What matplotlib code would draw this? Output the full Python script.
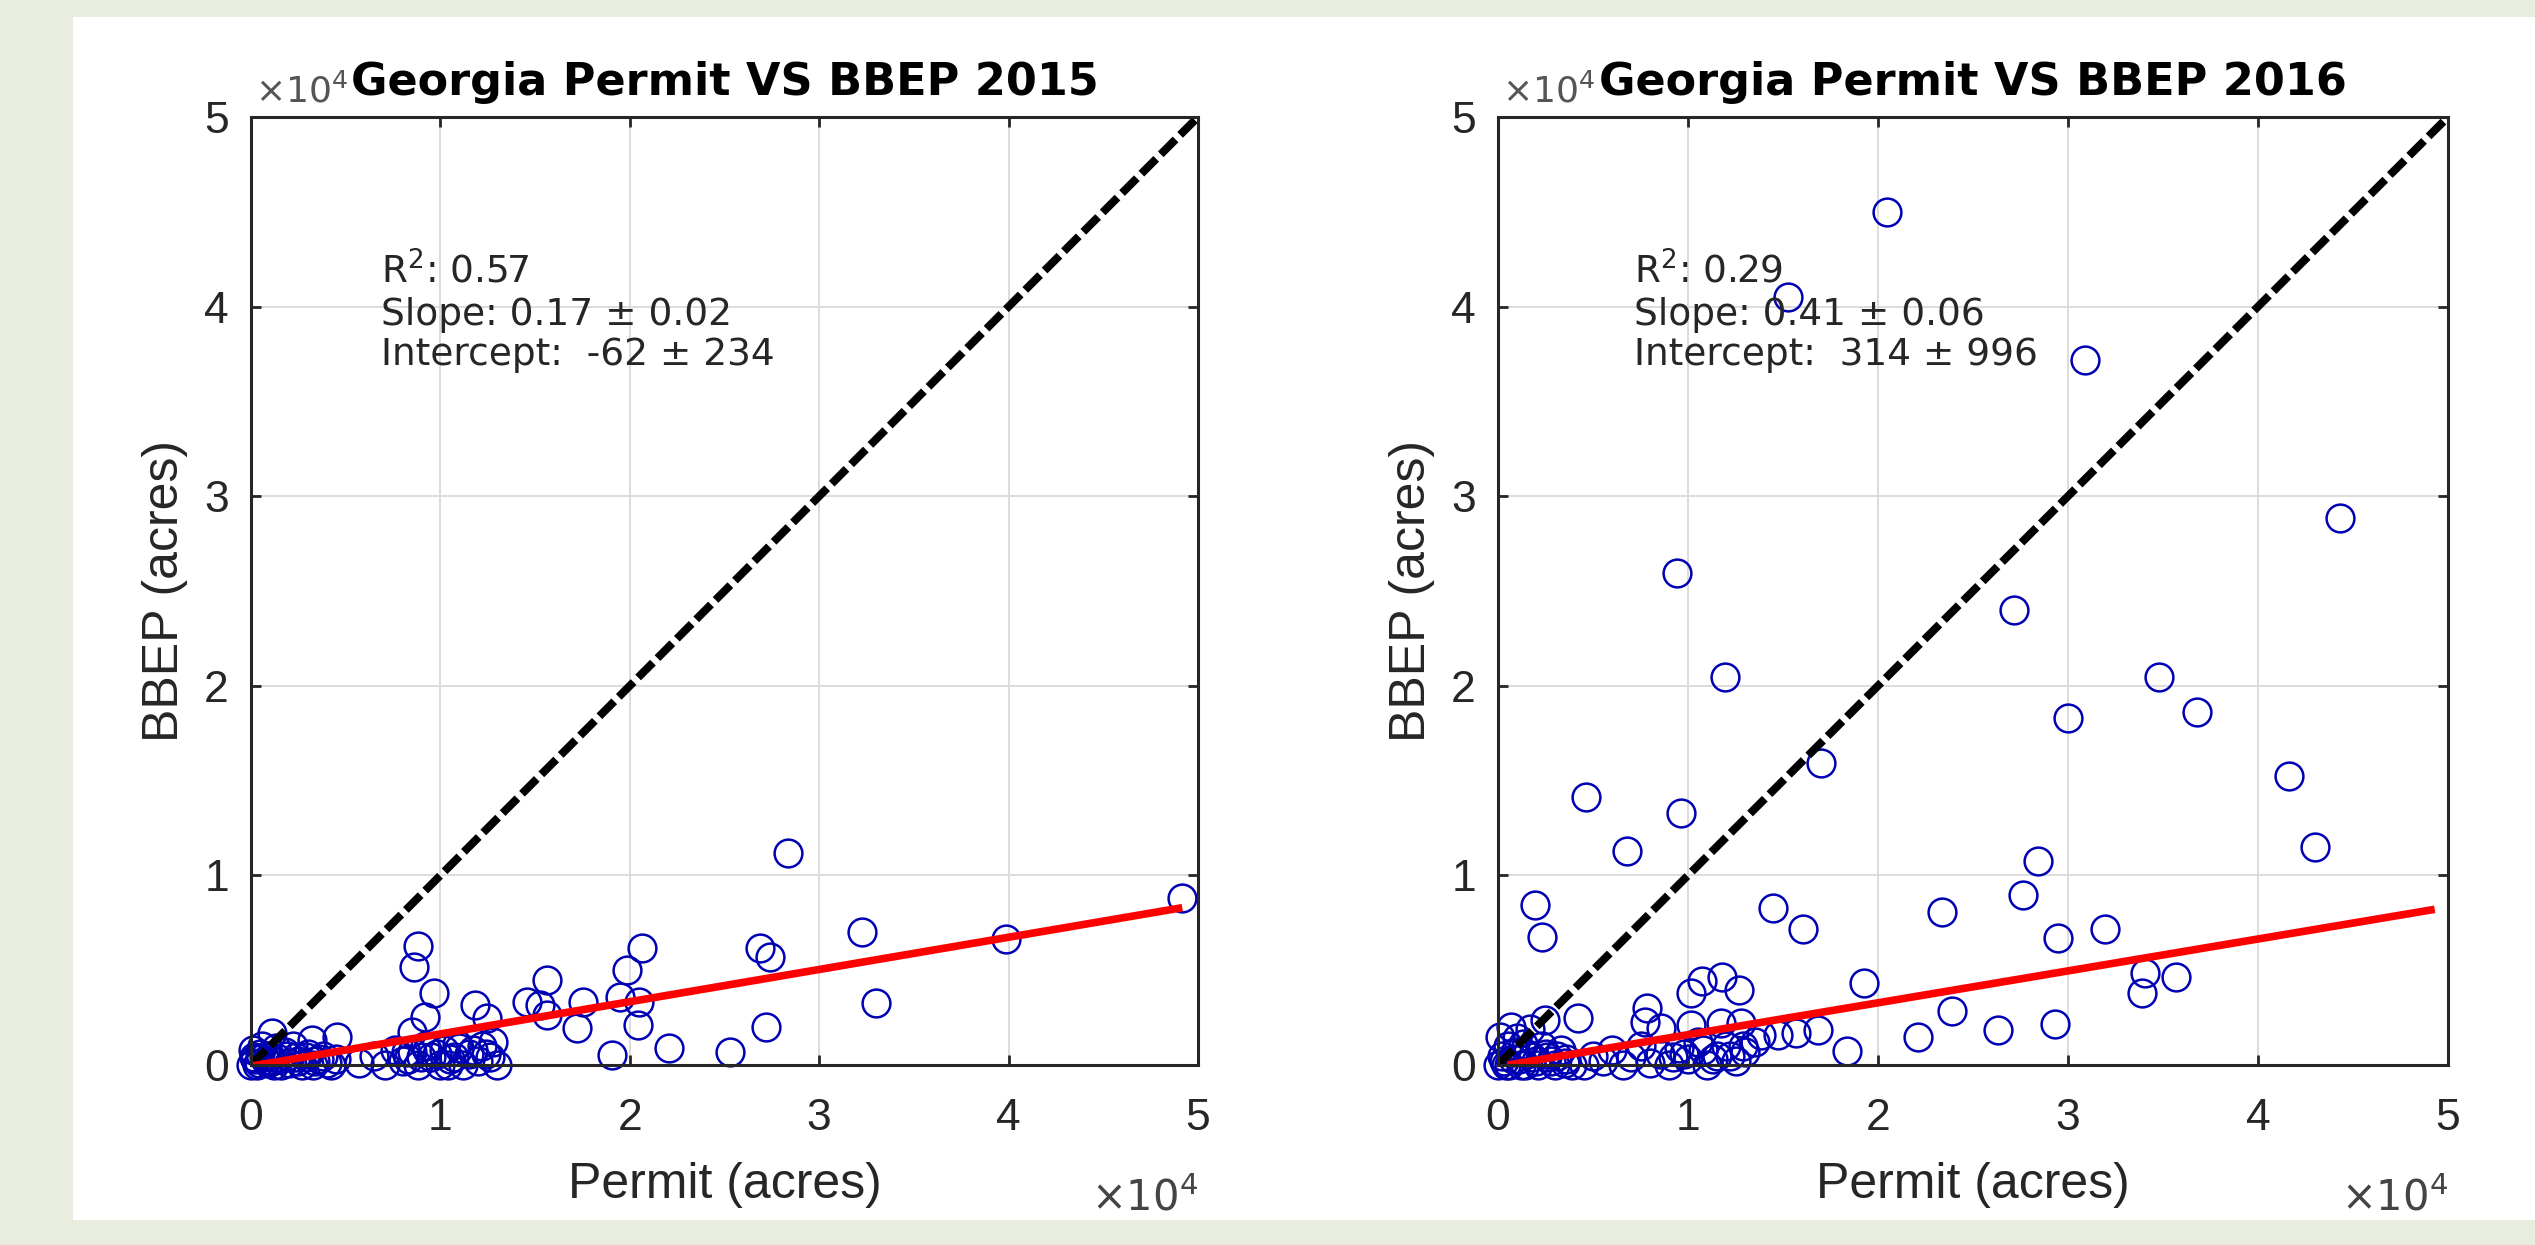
"""Georgia permit acreage versus BBEP acreage, 2015 and 2016."""

import matplotlib
matplotlib.use("Agg", force=True)
import matplotlib.pyplot as plt
from matplotlib.patches import Rectangle
from matplotlib.ticker import FuncFormatter, MultipleLocator

plt.rcParams["font.family"] = ["Liberation Sans", "DejaVu Sans"]
plt.rcParams["mathtext.fontset"] = "dejavusans"

# ---- data (acres) ------------------------------------------------------
permit_2015 = [
    8800, 8610, 9680, 9190, 8480, 11830, 12440, 15610, 14560, 15260, 17550, 17200,
    19480, 19840, 20630, 20450, 20500, 19040, 22070, 25290, 27200, 28340, 26870,
    27400, 32280, 32980, 39860, 49170, 1090, 3200, 4520, 15610,
    0, 200, 400, 500, 800, 1000, 1200, 1500, 1800, 2000, 2400, 2700, 3000, 3400,
    3800, 4200, 4500, 100, 600, 1300, 2200,
    300, 700, 1100, 1600, 1900, 2500, 2900, 3300, 3600, 4000, 150, 900,
    5700, 6500, 7100, 7600, 8000, 8500, 8800, 9200, 9500, 10000, 10200, 10500,
    10900, 11200, 11500, 12000, 12200, 12600, 13000, 12800, 9300, 8200,
    9800, 10700, 11700, 12400, 10400, 11000, 9000, 8300,
]
bbep_2015 = [
    6280, 5190, 3780, 2550, 1760, 3160, 2460, 4480, 3340, 3160, 3340, 1930,
    3600, 5010, 6150, 2110, 3300, 530, 880, 700, 2020, 11170, 6150,
    5710, 7000, 3250, 6650, 8790, 1670, 1320, 1490, 2640,
    0, 300, 100, 600, 200, 500, 0, 300, 700, 100, 400, 0, 600, 200,
    500, 0, 300, 800, 1000, 900, 1000,
    0, 400, 200, 0, 500, 200, 400, 0, 300, 100, 400, 100,
    100, 500, 0, 800, 200, 700, 0, 1000, 400, 0, 800, 300,
    1100, 0, 600, 200, 1000, 400, 0, 1200, 790, 700,
    600, 400, 800, 600, 0, 900, 400, 300,
]
fit_x_2015 = [0, 49170]
fit_y_2015 = [-62, 8297]

permit_2016 = [
    20470, 15270, 30900, 44300, 9440, 27160, 11930, 34800, 36770, 30000, 17000,
    41630, 4620, 9620, 6770, 43000, 28400, 27650, 1950, 2300, 14460, 16070, 23380,
    29460, 31950, 19280, 33900, 34050, 35700, 23900, 22120, 26330, 29300, 18380,
    10160, 10720, 11800, 12700, 7860, 7720, 8600, 10170, 11750, 12800, 4210, 2460,
    16840, 15700, 14740, 13860,
    0, 200, 400, 500, 800, 1000, 1200, 1500, 1700, 2000, 2300, 2600, 3000, 3300,
    3600, 100, 700, 1300,
    300, 600, 900, 1100, 1400, 1800, 2100, 2500, 2800, 3100, 3500, 3900,
    4500, 5000, 5500, 6000, 6600, 7000, 7500, 8000, 8500, 9000, 9500, 10000,
    10500, 11000, 11500, 12000, 12500, 13000, 13500,
    9200, 9800, 10800, 11300, 12200, 12900,
]
bbep_2016 = [
    44970, 40520, 37180, 28830, 25970, 24000, 20450, 20450, 18630, 18280, 15910,
    15240, 14150, 13280, 11290, 11480, 10760, 8970, 8440, 6770, 8270, 7170, 8050,
    6680, 7170, 4310, 3780, 4840, 4660, 2870, 1460, 1850, 2150, 750,
    3780, 4450, 4660, 3960, 2990, 2280, 1930, 2110, 2200, 2200, 2460, 2370,
    1850, 1670, 1580, 1580,
    0, 500, 0, 1000, 300, 1400, 0, 600, 1900, 200, 1000, 400, 0, 800,
    300, 1500, 2000, 1100,
    200, 0, 700, 300, 0, 400, 0, 600, 200, 500, 100, 0,
    0, 500, 200, 800, 0, 400, 1000, 100, 600, 0, 900, 300,
    1200, 0, 500, 1000, 200, 700, 1200,
    400, 600, 800, 300, 500, 1000,
]
fit_x_2016 = [500, 49300]
fit_y_2016 = [0, 8210]

one_to_one = [0, 50000]

titles = ["Georgia Permit VS BBEP 2015", "Georgia Permit VS BBEP 2016"]
stats_2015 = ["R$^2$: 0.57", "Slope: 0.17 \u00b1 0.02", "Intercept:  -62 \u00b1 234"]
stats_2016 = ["R$^2$: 0.29", "Slope: 0.41 \u00b1 0.06", "Intercept:  314 \u00b1 996"]

TICK_GREY = "#262626"


def draw_panel(ax, permit, bbep, fit_x, fit_y, title, stats, text_x):
    ax.plot(permit, bbep, "o", ms=20, mfc="none", mec="#0000b4", mew=1.8,
            clip_on=False, zorder=3)
    ax.plot(one_to_one, one_to_one, color="black", lw=5.8, linestyle="--",
            dashes=(2.6, 0.8), zorder=4)
    ax.plot(fit_x, fit_y, color="red", lw=5.5, solid_capstyle="butt", zorder=5)

    ax.set_xlim(0, 50000)
    ax.set_ylim(0, 50000)
    for axis in (ax.xaxis, ax.yaxis):
        axis.set_major_locator(MultipleLocator(10000))
        axis.set_major_formatter(FuncFormatter(lambda v, p: f"{v / 1e4:g}"))
    ax.tick_params(direction="in", length=7, width=2, top=True, right=True,
                   labelsize=32, colors=TICK_GREY)
    ax.tick_params(axis="x", pad=24)
    ax.tick_params(axis="y", pad=16)
    ax.grid(True, color="#dcdcdc", lw=1.4, zorder=0)
    ax.set_axisbelow(True)
    for spine in ax.spines.values():
        spine.set_linewidth(2.2)
        spine.set_color(TICK_GREY)
        spine.set_zorder(6)

    ax.set_title(title, fontfamily="DejaVu Sans", fontweight="bold",
                 fontsize=32, pad=16)
    ax.set_xlabel("Permit (acres)", fontsize=36, color=TICK_GREY)
    ax.set_ylabel("BBEP (acres)", fontsize=36, color=TICK_GREY)
    ax.xaxis.set_label_coords(0.5, -0.102)
    ax.yaxis.set_label_coords(-0.0665, 0.5)

    for line, y in zip(stats, (0.825, 0.781, 0.738)):
        ax.text(text_x, y, line, transform=ax.transAxes, fontfamily="DejaVu Sans",
                fontsize=27, color=TICK_GREY, va="baseline", ha="left", zorder=7)

    ax.text(0.004, 1.0148, r"$\times10^{4}$", transform=ax.transAxes,
            fontsize=26, color="#555555", va="baseline", ha="left")
    ax.text(1.0, -0.153, r"$\times10^{4}$", transform=ax.transAxes,
            fontsize=30, color="#444444", va="baseline", ha="right")


fig = plt.figure(figsize=(25.35, 12.45), dpi=100, facecolor="#e9eddf")
fig.add_artist(Rectangle((0.0288, 0.0201), 0.9712, 0.9662, transform=fig.transFigure,
                         facecolor="white", edgecolor="none", zorder=-10))

ax1 = fig.add_axes([0.09901, 0.14458, 0.37357, 0.76145])
ax2 = fig.add_axes([0.59093, 0.14458, 0.37475, 0.76145])

draw_panel(ax1, permit_2015, bbep_2015, fit_x_2015, fit_y_2015, titles[0], stats_2015, 0.137)
draw_panel(ax2, permit_2016, bbep_2016, fit_x_2016, fit_y_2016, titles[1], stats_2016, 0.143)

fig.savefig("out.png", dpi=100, facecolor=fig.get_facecolor())
plt.close(fig)
